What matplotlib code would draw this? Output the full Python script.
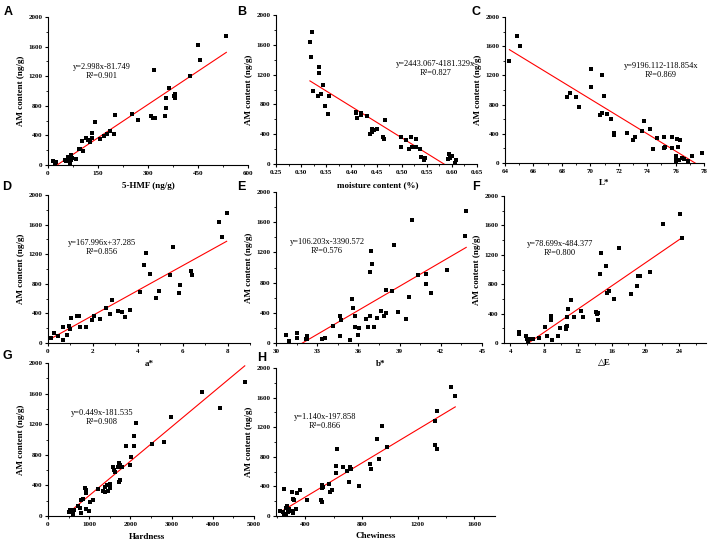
import matplotlib
matplotlib.use("Agg")
import matplotlib.pyplot as plt
from matplotlib.ticker import MultipleLocator, AutoMinorLocator

FW, FH = 708, 542

# ---- data ----
hmf_x = [535, 451, 455, 425, 318, 362, 353, 380, 377, 380, 355, 310, 316, 320, 350, 253, 269, 202,
         140, 197, 185, 176, 169, 155, 133, 131, 113, 119, 125, 103, 106, 94, 95, 85, 73, 68, 60,
         62, 52, 55, 65, 70, 15, 23, 20, 65]
hmf_y = [1748, 1622, 1415, 1207, 1288, 1045, 905, 960, 928, 905, 775, 662, 640, 640, 662, 694, 604,
         680, 577, 419, 464, 423, 396, 356, 360, 432, 360, 342, 315, 324, 194, 216, 220, 86, 99, 140,
         108, 72, 72, 54, 50, 63, 50, 40, 13, 27]

moist_x = [0.321, 0.3175, 0.319, 0.336, 0.335, 0.343, 0.324, 0.333, 0.339, 0.356, 0.348, 0.353,
           0.410, 0.410, 0.419, 0.420, 0.411, 0.432, 0.467, 0.442, 0.438, 0.442, 0.445, 0.451,
           0.463, 0.464, 0.498, 0.498, 0.509, 0.519, 0.528, 0.515, 0.520, 0.528, 0.536, 0.538,
           0.546, 0.545, 0.595, 0.601, 0.597, 0.592, 0.609, 0.607]
moist_y = [1767, 1633, 1432, 1297, 1226, 1056, 980, 913, 944, 913, 783, 671, 702, 680, 658, 680,
           613, 644, 586, 474, 403, 429, 456, 474, 362, 331, 362, 233, 318, 362, 331, 201, 228,
           233, 206, 98, 80, 54, 134, 107, 80, 63, 54, 18]

l_x = [64.31, 64.87, 65.04, 68.33, 68.54, 68.99, 69.18, 70.02, 70.07, 70.82, 70.99, 70.66, 70.82,
       71.20, 71.46, 71.65, 71.65, 72.61, 73.01, 73.13, 73.62, 73.79, 74.19, 74.38, 74.71, 75.18,
       75.20, 75.29, 75.72, 75.72, 76.12, 76.31, 76.14, 76.00, 76.05, 76.00, 76.00, 76.24, 76.45,
       76.56, 76.89, 77.13, 77.18, 77.86]
l_y = [1404, 1741, 1609, 900, 954, 900, 773, 1036, 1282, 1205, 923, 659, 691, 677, 600, 409, 386,
       409, 318, 350, 436, 577, 459, 191, 345, 350, 205, 218, 359, 209, 327, 309, 218, 91, 73, 50,
       14, 45, 64, 55, 27, 91, 100, 136]

a_x = [0.07, 0.13, 0.25, 0.43, 0.67, 0.68, 0.84, 0.92, 0.99, 1.04, 1.27, 1.39, 1.41, 1.69, 1.96,
       2.03, 2.33, 2.58, 2.77, 2.84, 3.13, 3.29, 3.45, 3.64, 4.09, 4.27, 4.37, 4.55, 4.80, 4.93,
       5.45, 5.59, 5.82, 5.90, 6.36, 6.43, 7.63, 7.76, 7.96]
a_y = [63, 63, 139, 90, 216, 45, 103, 225, 193, 333, 360, 360, 211, 220, 315, 360, 324, 472, 395,
       584, 427, 418, 355, 440, 688, 1056, 1222, 939, 611, 706, 917, 1299, 674, 786, 975, 917, 1631,
       1429, 1762]

b_x = [30.71, 30.98, 31.52, 31.52, 32.25, 32.25, 32.16, 33.38, 33.55, 34.12, 34.63, 34.66, 34.75,
       35.42, 35.51, 35.59, 35.74, 35.74, 35.96, 36.08, 36.54, 36.67, 36.81, 36.81, 36.91, 37.01,
       37.13, 37.35, 37.65, 37.87, 37.99, 38.01, 38.43, 38.60, 38.87, 39.46, 39.71, 39.88, 40.37,
       40.93, 40.93, 41.27, 42.43, 43.73, 43.85]
b_y = [102, 22, 137, 66, 88, 57, 49, 49, 71, 225, 358, 88, 309, 44, 583, 468, 358, 208, 102, 199,
       318, 216, 358, 936, 1214, 1051, 216, 327, 419, 353, 397, 702, 684, 1294, 415, 318, 609, 1625,
       905, 909, 777, 667, 971, 1422, 1753]

de_x = [5.02, 5.02, 5.80, 5.95, 6.14, 6.07, 6.25, 6.45, 6.65, 7.38, 8.10, 8.40, 8.81, 8.81, 8.89,
        9.60, 9.94, 10.58, 10.65, 10.69, 10.69, 10.88, 10.77, 11.22, 11.56, 12.35, 12.57, 14.19,
        14.30, 14.41, 14.41, 14.64, 14.75, 15.39, 15.43, 15.73, 16.33, 16.86, 18.25, 19.04, 19.11,
        19.41, 20.58, 22.05, 24.15, 24.38]
de_y = [150, 118, 91, 59, 45, 18, 55, 55, 55, 73, 218, 91, 364, 309, 45, 100, 209, 218, 195, 232,
        350, 464, 355, 582, 355, 436, 350, 423, 391, 409, 318, 936, 1218, 1050, 686, 704, 604, 1295,
        668, 777, 909, 909, 968, 1623, 1754, 1423]

hard_x = [3733, 4186, 2974, 2141, 2085, 1883, 2077, 2804, 2521, 2004, 1980, 1721, 1754, 1786, 1697,
          1576, 1592, 1624, 1721, 1754, 1390, 1430, 1495, 1495, 1454, 1374, 1333, 1220, 1091, 1026,
          994, 889, 929, 913, 848, 808, 913, 792, 768, 727, 622, 541, 509, 606, 4776]
hard_y = [1622, 1417, 1291, 1217, 1048, 909, 909, 970, 935, 774, 665, 696, 665, 643, 635, 635, 600,
          578, 439, 470, 374, 400, 417, 361, 330, 317, 326, 348, 209, 187, 70, 361, 339, 296, 217,
          209, 87, 43, 100, 130, 78, 74, 57, 26, 1748]

chew_x = [1436, 1467, 1336, 1326, 1324, 1340, 948, 910, 981, 924, 857, 869, 624, 619, 619, 667, 695,
          714, 726, 707, 779, 567, 576, 586, 517, 524, 521, 507, 517, 412, 362, 338, 310, 321, 305,
          250, 262, 267, 286, 302, 310, 329, 274, 238, 219, 245, 262]
chew_y = [1743, 1616, 1413, 1287, 962, 908, 1210, 1043, 930, 777, 700, 637, 908, 682, 578, 668, 610,
          668, 641, 460, 411, 433, 330, 352, 420, 397, 375, 221, 194, 217, 352, 316, 226, 217, 330,
          361, 104, 140, 90, 72, 36, 90, 59, 59, 72, 27, 27]

# fitted lines: (intercept, slope)
fits = {"A": (-81.749, 2.998), "B": (2443.067, -4181.329), "C": (9196.112, -118.854),
        "D": (37.285, 167.996), "E": (-3390.572, 106.203), "F": (-484.377, 78.699),
        "G": (-181.535, 0.449), "H": (-197.858, 1.140)}
eqs = {"A": "y=2.998x-81.749", "B": "y=2443.067-4181.329x", "C": "y=9196.112-118.854x",
       "D": "y=167.996x+37.285", "E": "y=106.203x-3390.572", "F": "y=78.699x-484.377",
       "G": "y=0.449x-181.535", "H": "y=1.140x-197.858"}
r2 = {"A": "0.901", "B": "0.827", "C": "0.869", "D": "0.856", "E": "0.576", "F": "0.800",
      "G": "0.908", "H": "0.866"}
xlabels = {"A": "5-HMF (ng/g)", "B": "moisture content (%)", "C": "L*", "D": "a*", "E": "b*",
           "F": "\u25b3E", "G": "Hardness", "H": "Chewiness"}

# layout in pixels: axes box (l, r, t, b), xlim, x major step, eq pos, xlabel pos, letter pos
panels = {
    "A": dict(x=hmf_x, y=hmf_y, box=(48, 248, 17, 165), xlim=(0, 600), step=150,
              eq=(102, 67), xl=(148, 186), let=(8, 12)),
    "B": dict(x=moist_x, y=moist_y, box=(276, 477, 15, 164), xlim=(0.25, 0.65), step=0.05,
              eq=(436, 64), xl=(378, 185), let=(242, 12)),
    "C": dict(x=l_x, y=l_y, box=(505, 704, 17, 163), xlim=(64, 78), step=2,
              eq=(661, 66), xl=(604, 183), let=(476, 12)),
    "D": dict(x=a_x, y=a_y, box=(48, 250, 195, 343), xlim=(0, 9), step=2,
              eq=(102, 243), xl=(149, 364), let=(7, 187)),
    "E": dict(x=b_x, y=b_y, box=(276, 482, 192, 343), xlim=(30, 45), step=3,
              eq=(327, 242), xl=(381, 364), let=(241, 187)),
    "F": dict(x=de_x, y=de_y, box=(504, 706, 196, 343), xlim=(3.25, 27.2), step=4,
              eq=(560, 244), xl=(604, 363), let=(476, 187)),
    "G": dict(x=hard_x, y=hard_y, box=(48, 254, 363, 516), xlim=(0, 5000), step=1000,
              eq=(102, 413), xl=(147, 537), let=(7, 356)),
    "H": dict(x=chew_x, y=chew_y, box=(276, 495, 368, 516), xlim=(190, 1750), step=400,
              eq=(325, 417), xl=(376, 536), let=(262, 358)),
}

serif = ["Liberation Serif", "DejaVu Serif"]

fig = plt.figure(figsize=(FW / 100, FH / 100), dpi=100)


def fx(px):
    return px / FW


def fy(py):
    return 1 - py / FH


for key, p in panels.items():
    l, r, t, b = p["box"]
    ax = fig.add_axes([fx(l), fy(b), (r - l) / FW, (b - t) / FH])
    ax.scatter(p["x"], p["y"], marker="s", s=11, color="black", linewidths=0, zorder=3)
    c0, c1 = fits[key]
    xs = [min(p["x"]), max(p["x"])]
    ax.plot(xs, [c0 + c1 * v for v in xs], color="red", lw=0.8, zorder=2)
    ax.set_xlim(*p["xlim"])
    ax.set_ylim(0, 2000)
    ax.xaxis.set_major_locator(MultipleLocator(p["step"]))
    ax.yaxis.set_major_locator(MultipleLocator(400))
    ax.xaxis.set_minor_locator(AutoMinorLocator(2))
    ax.yaxis.set_minor_locator(AutoMinorLocator(2))
    for s in ["top", "right"]:
        ax.spines[s].set_visible(False)
    for s in ["left", "bottom"]:
        ax.spines[s].set_linewidth(0.8)
    ax.tick_params(which="major", direction="out", length=2.5, width=0.8, pad=1.5)
    ax.tick_params(which="minor", direction="out", length=1.5, width=0.6)
    for lab in ax.get_xticklabels() + ax.get_yticklabels():
        lab.set_fontfamily(serif)
        lab.set_fontweight("bold")
        lab.set_fontsize(5)
    ax.set_ylabel("AM content (ng/g)", family=serif, fontweight="bold", fontsize=6.5, labelpad=2.5)
    ex, ey = p["eq"]
    fig.text(fx(ex), fy(ey), eqs[key], family=serif, fontsize=6, ha="center", va="center")
    fig.text(fx(ex), fy(ey + 9), "R\u00b2=" + r2[key], family=serif, fontsize=6,
             ha="center", va="center")
    lx, ly = p["xl"]
    fig.text(fx(lx), fy(ly), xlabels[key], family=serif, fontweight="bold", fontsize=6.5,
             ha="center", va="center")
    tx, ty = p["let"]
    fig.text(fx(tx), fy(ty), key, family="Liberation Sans", fontweight="bold", fontsize=9,
             ha="center", va="center")

fig.savefig("out.png", dpi=100)
